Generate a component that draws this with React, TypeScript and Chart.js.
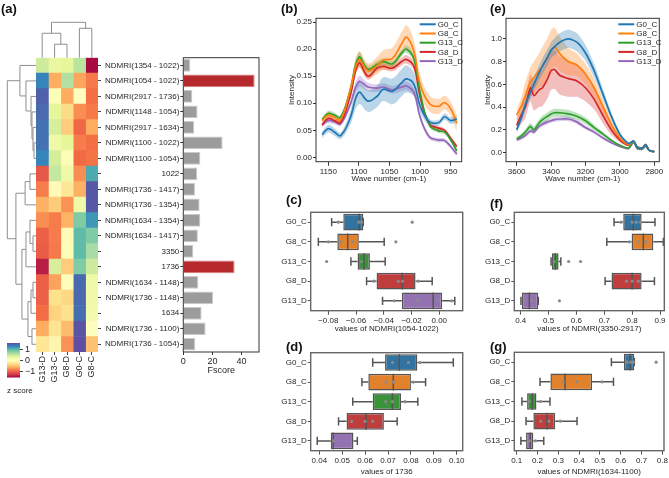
import React, { useEffect, useRef } from "react";
import { Chart, registerables } from "chart.js";
Chart.register(...registerables);

const FONT_FAMILY = "'Liberation Sans', Arial, Helvetica, sans-serif";
Chart.defaults.font.family = FONT_FAMILY;
Chart.defaults.font.size = 8;
Chart.defaults.color = "#262626";

// ---------------- (a) heatmap + F-score ----------------
const heatRows = [
  "NDMRI(1354 - 1022)",
  "NDMRI(1054 - 1022)",
  "NDMRI(2917 - 1736)",
  "NDMRI(1148 - 1054)",
  "NDMRI(2917 - 1634)",
  "NDMRI(1100 - 1022)",
  "NDMRI(1100 - 1054)",
  "1022",
  "NDMRI(1736 - 1417)",
  "NDMRI(1736 - 1354)",
  "NDMRI(1634 - 1354)",
  "NDMRI(1634 - 1417)",
  "3350",
  "1736",
  "NDMRI(1634 - 1148)",
  "NDMRI(1736 - 1148)",
  "1634",
  "NDMRI(1736 - 1100)",
  "NDMRI(1736 - 1054)",
];
const heatCols = ["G13-D", "G13-C", "G8-D", "G0-C", "G8-C"];
// z-scores, rows x cols
const zScores = [
  [0.45, 0.25, 0.3, 0.55, -1.55],
  [1.3, -0.65, 0.6, -0.68, -0.9],
  [1.5, 0.05, -0.65, 0.02, -0.95],
  [1.45, 0.3, -0.35, -0.8, -0.9],
  [1.4, 0.4, -0.45, -1.0, -0.65],
  [1.4, 0.2, 0.3, -0.88, -0.95],
  [1.3, 0.42, 0.05, -0.98, -0.93],
  [-1.1, 0.5, 0.2, -0.8, 1.1],
  [-0.88, -0.05, -0.25, -0.62, 1.55],
  [-0.62, -0.45, -0.78, 0.2, 1.55],
  [-0.8, -0.88, -0.6, 0.85, 1.2],
  [-1.05, -0.88, -0.05, 1.0, 0.85],
  [-1.07, -0.9, 0.05, 1.0, 0.65],
  [-1.45, 0.4, -0.45, 0.85, 0.45],
  [-1.05, -0.7, -0.02, 1.45, 0.2],
  [-1.05, -0.3, -0.37, 1.45, 0.18],
  [-0.97, -0.4, -0.3, 1.42, 0.15],
  [-0.65, -0.28, -0.55, 1.58, 0.02],
  [-0.25, -0.1, -0.78, 1.6, -0.52],
];
const zRange = [-1.6, 1.6];
const zTicks = [-1, 0, 1];
const fScores = [4.8, 49, 6.2, 9.8, 7.5, 27, 11.7, 9.6, 8, 11.2, 11.7, 10, 6.9, 35.2, 10.3, 20.4, 12.6, 15.3, 8.2];
const fTicks = [0, 20, 40];
const fMax = 52;
// linkage: [childA, childB, height] (leaves 0..n-1, merged clusters n, n+1, ...)
const rowLinkage = [
  [5, 6, 0.07],
  [4, 19, 0.105],
  [3, 20, 0.14],
  [2, 21, 0.174],
  [1, 22, 0.35],
  [0, 23, 0.56],
  [7, 8, 0.21],
  [25, 9, 0.38],
  [11, 12, 0.105],
  [10, 27, 0.21],
  [28, 13, 0.35],
  [14, 15, 0.105],
  [30, 16, 0.174],
  [17, 18, 0.14],
  [31, 32, 0.28],
  [29, 33, 0.49],
  [26, 34, 0.7],
  [24, 35, 1.0],
];
const colLinkage = [
  [1, 2, 0.38],
  [0, 5, 0.69],
  [3, 4, 0.83],
  [6, 7, 1.0],
];

// ---------------- shared groups ----------------
const groups = ["G0_C", "G8_C", "G13_C", "G8_D", "G13_D"];
const lineColors = ["#1f77b4", "#ff7f0e", "#2ca02c", "#d62728", "#9467bd"];
const boxColors = ["#3274a1", "#e1812c", "#3a923a", "#c03d3e", "#9372b2"];

// ---------------- (b) spectrum 1160-940 ----------------
const bWave = [1160, 1150, 1140, 1130, 1115, 1100, 1085, 1070, 1060, 1045, 1030, 1022, 1010, 1000, 985, 970, 960, 950, 940];
const bG0C = [0.042, 0.053, 0.047, 0.04, 0.07, 0.12, 0.104, 0.113, 0.126, 0.122, 0.138, 0.145, 0.135, 0.095, 0.066, 0.064, 0.075, 0.068, 0.071];
const bG8C = [0.068, 0.078, 0.074, 0.069, 0.12, 0.18, 0.16, 0.17, 0.18, 0.183, 0.21, 0.222, 0.195, 0.135, 0.1, 0.094, 0.101, 0.09, 0.063];
const bG13C = [0.07, 0.081, 0.078, 0.074, 0.12, 0.185, 0.163, 0.172, 0.177, 0.173, 0.193, 0.2, 0.182, 0.12, 0.06, 0.049, 0.047, 0.032, 0.012];
const bG8D = [0.06, 0.072, 0.068, 0.064, 0.11, 0.174, 0.15, 0.165, 0.168, 0.165, 0.177, 0.181, 0.168, 0.112, 0.062, 0.054, 0.05, 0.035, 0.02];
const bG13D = [0.06, 0.068, 0.066, 0.062, 0.095, 0.14, 0.13, 0.128, 0.13, 0.125, 0.13, 0.132, 0.12, 0.075, 0.038, 0.032, 0.031, 0.02, 0.006];
const bSdG0C = [0.006, 0.007, 0.007, 0.006, 0.012, 0.022, 0.02, 0.02, 0.022, 0.024, 0.025, 0.025, 0.022, 0.012, 0.006, 0.005, 0.006, 0.006, 0.006];
const bSdG8C = [0.005, 0.005, 0.005, 0.005, 0.01, 0.015, 0.014, 0.016, 0.018, 0.02, 0.022, 0.022, 0.02, 0.018, 0.015, 0.014, 0.013, 0.013, 0.015];
const bSdG13C = [0.004, 0.005, 0.005, 0.004, 0.007, 0.01, 0.007, 0.006, 0.006, 0.006, 0.006, 0.007, 0.006, 0.005, 0.004, 0.004, 0.004, 0.004, 0.004];
const bSdG8D = [0.004, 0.004, 0.004, 0.004, 0.006, 0.008, 0.006, 0.006, 0.006, 0.006, 0.007, 0.008, 0.007, 0.005, 0.004, 0.004, 0.004, 0.004, 0.004];
const bSdG13D = [0.004, 0.005, 0.005, 0.004, 0.006, 0.01, 0.008, 0.007, 0.007, 0.007, 0.008, 0.008, 0.007, 0.006, 0.004, 0.004, 0.004, 0.004, 0.004];
const bXTicks = [1150, 1100, 1050, 1000, 950];
const bYTicks = [0, 0.05, 0.1, 0.15, 0.2, 0.25];

// ---------------- (e) spectrum 3600-2800 ----------------
const eWave = [3600, 3570, 3550, 3520, 3500, 3470, 3450, 3420, 3400, 3380, 3350, 3300, 3250, 3200, 3150, 3100, 3050, 3000, 2950, 2920, 2900, 2870, 2850, 2830, 2800];
const eG0C = [0.2, 0.32, 0.42, 0.53, 0.6, 0.7, 0.76, 0.84, 0.9, 0.93, 0.97, 1.0, 0.97, 0.875, 0.72, 0.52, 0.32, 0.16, 0.08, 0.1, 0.05, 0.04, 0.07, 0.02, 0.01];
const eG8C = [0.33, 0.42, 0.5, 0.62, 0.66, 0.72, 0.76, 0.84, 0.9, 0.93, 0.87, 0.8, 0.77, 0.69, 0.57, 0.41, 0.25, 0.13, 0.07, 0.1, 0.05, 0.04, 0.07, 0.02, 0.01];
const eG13C = [0.12, 0.15, 0.18, 0.23, 0.2, 0.26, 0.29, 0.32, 0.34, 0.35, 0.35, 0.34, 0.32, 0.28, 0.22, 0.165, 0.107, 0.064, 0.04, 0.1, 0.04, 0.035, 0.06, 0.02, 0.005];
const eG8D = [0.24, 0.34, 0.4, 0.57, 0.5, 0.55, 0.57, 0.65, 0.72, 0.73, 0.68, 0.65, 0.63, 0.57, 0.47, 0.33, 0.2, 0.11, 0.065, 0.1, 0.05, 0.04, 0.07, 0.02, 0.01];
const eG13D = [0.11, 0.13, 0.15, 0.19, 0.18, 0.23, 0.25, 0.27, 0.28, 0.29, 0.295, 0.295, 0.27, 0.22, 0.18, 0.13, 0.087, 0.055, 0.035, 0.09, 0.035, 0.03, 0.055, 0.02, 0.005];
const eSdG0C = [0.03, 0.04, 0.05, 0.055, 0.06, 0.065, 0.07, 0.07, 0.07, 0.075, 0.08, 0.08, 0.08, 0.07, 0.06, 0.045, 0.03, 0.02, 0.01, 0.01, 0.008, 0.008, 0.008, 0.005, 0.005];
const eSdG8C = [0.05, 0.08, 0.12, 0.13, 0.14, 0.15, 0.17, 0.17, 0.18, 0.17, 0.15, 0.12, 0.1, 0.09, 0.08, 0.06, 0.04, 0.02, 0.01, 0.01, 0.008, 0.008, 0.008, 0.005, 0.005];
const eSdG13C = [0.015, 0.02, 0.025, 0.03, 0.03, 0.03, 0.035, 0.035, 0.035, 0.035, 0.035, 0.035, 0.03, 0.03, 0.025, 0.02, 0.015, 0.01, 0.008, 0.008, 0.006, 0.006, 0.006, 0.004, 0.004];
const eSdG8D = [0.05, 0.08, 0.1, 0.12, 0.13, 0.15, 0.16, 0.17, 0.17, 0.17, 0.17, 0.16, 0.14, 0.12, 0.09, 0.07, 0.045, 0.02, 0.01, 0.01, 0.008, 0.008, 0.008, 0.005, 0.005];
const eSdG13D = [0.012, 0.015, 0.015, 0.018, 0.018, 0.02, 0.02, 0.02, 0.02, 0.02, 0.02, 0.02, 0.02, 0.018, 0.015, 0.012, 0.01, 0.008, 0.006, 0.006, 0.005, 0.005, 0.005, 0.004, 0.004];
const eXTicks = [3600, 3400, 3200, 3000, 2800];
const eYTicks = [0, 0.2, 0.4, 0.6, 0.8, 1.0];

// ---------------- (c) NDMRI(1054-1022) ----------------
const cLow = [-0.0776, -0.0872, -0.0637, -0.0524, -0.0409];
const cQ1 = [-0.0692, -0.0735, -0.0589, -0.0452, -0.027];
const cMed = [-0.0577, -0.066, -0.0543, -0.0267, -0.0044];
const cQ3 = [-0.0548, -0.058, -0.05, -0.0171, 0.0021];
const cHigh = [-0.0548, -0.0397, -0.039, -0.0051, 0.0112];
const cPoints = [
  [-0.0728, -0.058, -0.056, -0.0195],
  [-0.08, -0.0709, -0.0625, -0.0313],
  [-0.0812, -0.056],
  [-0.047, -0.0296, -0.0265, -0.0152],
  [-0.0325, -0.0157, -0.0008, 0.0088],
];
const cTicks = [-0.08, -0.06, -0.04, -0.02, 0.0];

// ---------------- (d) 1736 ----------------
const dLow = [0.0633, 0.0586, 0.0546, 0.0484, 0.0391];
const dQ1 = [0.0687, 0.0614, 0.0633, 0.0519, 0.045];
const dMed = [0.0749, 0.0723, 0.0719, 0.0604, 0.0461];
const dQ3 = [0.0828, 0.08, 0.0757, 0.0682, 0.0549];
const dHigh = [0.0985, 0.0864, 0.083, 0.074, 0.0566];
const dPoints = [
  [0.072, 0.0789, 0.084],
  [0.0691, 0.0723, 0.081],
  [0.069, 0.0719, 0.0774],
  [0.0541, 0.06, 0.0633],
  [0.0464],
];
const dTicks = [0.04, 0.05, 0.06, 0.07, 0.08, 0.09, 0.1];

// ---------------- (f) NDMRI(3350-2917) ----------------
const fLow = [0.735, 0.709, 0.509, 0.703, 0.401];
const fQ1 = [0.768, 0.798, 0.512, 0.726, 0.404];
const fMed = [0.804, 0.84, 0.524, 0.8, 0.431];
const fQ3 = [0.834, 0.876, 0.536, 0.834, 0.463];
const fHigh = [0.882, 0.912, 0.544, 0.88, 0.463];
const fPoints = [
  [0.76, 0.8, 0.815, 0.83],
  [0.79, 0.822, 0.848],
  [0.52, 0.572, 0.615],
  [0.78, 0.8, 0.822],
  [0.412, 0.44, 0.539],
];
const fBoxTicks = [0.4, 0.5, 0.6, 0.7, 0.8, 0.9];

// ---------------- (g) NDMRI(1634-1100) ----------------
const gLow = [0.555, 0.212, 0.125, 0.145, 0.12];
const gQ1 = [0.615, 0.262, 0.15, 0.18, 0.145];
const gMed = [0.645, 0.332, 0.175, 0.245, 0.165];
const gQ3 = [0.665, 0.462, 0.195, 0.285, 0.18];
const gHigh = [0.665, 0.565, 0.26, 0.39, 0.23];
const gPoints = [
  [0.63, 0.648, 0.66, 0.77],
  [0.325, 0.39, 0.51],
  [0.16, 0.215],
  [0.215, 0.255, 0.31],
  [0.16, 0.19],
];
const gTicks = [0.1, 0.2, 0.3, 0.4, 0.5, 0.6, 0.7, 0.8];

// ---------------- helpers ----------------
const SPECTRAL = ["#9e0142", "#d53e4f", "#f46d43", "#fdae61", "#fee08b", "#ffffbf", "#e6f598", "#abdda4", "#66c2a5", "#3288bd", "#5e4fa2"];
function hexToRgb(h: string) {
  const n = parseInt(h.slice(1), 16);
  return [(n >> 16) & 255, (n >> 8) & 255, n & 255];
}
function zColor(z: number) {
  let t = (z - zRange[0]) / (zRange[1] - zRange[0]);
  t = Math.min(1, Math.max(0, t));
  const p = t * (SPECTRAL.length - 1);
  const i = Math.min(Math.floor(p), SPECTRAL.length - 2);
  const f = p - i;
  const a = hexToRgb(SPECTRAL[i]);
  const b = hexToRgb(SPECTRAL[i + 1]);
  const c = a.map((v, k) => Math.round(v + (b[k] - v) * f));
  return `rgb(${c[0]},${c[1]},${c[2]})`;
}
function alpha(hex: string, a: number) {
  const c = hexToRgb(hex);
  return `rgba(${c[0]},${c[1]},${c[2]},${a})`;
}
const minus = (s: string) => s.replace("-", "\u2212");

function dendroSegments(linkage: number[][], leafPos: number[]) {
  const pos = [...leafPos];
  const hgt = leafPos.map(() => 0);
  const segs: number[][] = [];
  linkage.forEach(([a, b, h]) => {
    segs.push([pos[a], hgt[a], pos[a], h]);
    segs.push([pos[b], hgt[b], pos[b], h]);
    segs.push([pos[a], h, pos[b], h]);
    pos.push((pos[a] + pos[b]) / 2);
    hgt.push(h);
  });
  return segs;
}

const ROW_DENDRO_W = 28.7;
const COL_DENDRO_H = 35.4;

const dendroPlugin = {
  id: "dendro",
  afterDraw(chart: any) {
    const { ctx, chartArea, scales } = chart;
    ctx.save();
    ctx.strokeStyle = "#8f8f8f";
    ctx.lineWidth = 1;
    ctx.beginPath();
    const rowPos = heatRows.map((_, i) => scales.y.getPixelForValue(i));
    for (const [p1, h1, p2, h2] of dendroSegments(rowLinkage, rowPos)) {
      ctx.moveTo(chartArea.left - h1 * ROW_DENDRO_W, p1);
      ctx.lineTo(chartArea.left - h2 * ROW_DENDRO_W, p2);
    }
    const colPos = heatCols.map((_, j) => scales.x.getPixelForValue(j + 0.5));
    for (const [p1, h1, p2, h2] of dendroSegments(colLinkage, colPos)) {
      ctx.moveTo(p1, chartArea.top - h1 * COL_DENDRO_H);
      ctx.lineTo(p2, chartArea.top - h2 * COL_DENDRO_H);
    }
    ctx.stroke();
    ctx.restore();
  },
};

function makeFramePlugin(color: string, width: number) {
  return {
    id: "frame",
    afterDraw(chart: any) {
      const { ctx, chartArea: a } = chart;
      ctx.save();
      ctx.strokeStyle = color;
      ctx.lineWidth = width;
      ctx.strokeRect(a.left, a.top, a.right - a.left, a.bottom - a.top);
      ctx.restore();
    },
  };
}

function makeLegendPlugin(fromRight: number, fromTop: number, rowH: number) {
  return {
    id: "insideLegend",
    afterDraw(chart: any) {
      const { ctx, chartArea: a } = chart;
      const items = chart.data.datasets.filter((d: any) => d.label);
      ctx.save();
      ctx.font = `8px ${FONT_FAMILY}`;
      ctx.textBaseline = "middle";
      ctx.textAlign = "left";
      const x0 = a.right - fromRight;
      items.forEach((d: any, i: number) => {
        const y = a.top + fromTop + i * rowH;
        ctx.strokeStyle = d.borderColor;
        ctx.lineWidth = 2;
        ctx.beginPath();
        ctx.moveTo(x0, y);
        ctx.lineTo(x0 + 16, y);
        ctx.stroke();
        ctx.fillStyle = "#262626";
        ctx.fillText(d.label, x0 + 18, y + 0.5);
      });
      ctx.restore();
    },
  };
}

function makeBoxPlugin(low: number[], med: number[], high: number[], q1: number[], q3: number[]) {
  const color = "#555555";
  return {
    id: "boxWhisker",
    beforeDatasetsDraw(chart: any) {
      const { ctx } = chart;
      const xs = chart.scales.x;
      const meta = chart.getDatasetMeta(0);
      ctx.save();
      ctx.strokeStyle = color;
      ctx.lineWidth = 1.5;
      ctx.beginPath();
      meta.data.forEach((bar: any, i: number) => {
        const y = bar.y;
        const cap = bar.height * 0.25;
        const xl = xs.getPixelForValue(low[i]);
        const xh = xs.getPixelForValue(high[i]);
        const x1 = xs.getPixelForValue(q1[i]);
        const x3 = xs.getPixelForValue(q3[i]);
        ctx.moveTo(xl, y);
        ctx.lineTo(x1, y);
        ctx.moveTo(x3, y);
        ctx.lineTo(xh, y);
        ctx.moveTo(xl, y - cap);
        ctx.lineTo(xl, y + cap);
        ctx.moveTo(xh, y - cap);
        ctx.lineTo(xh, y + cap);
      });
      ctx.stroke();
      ctx.restore();
    },
    afterDatasetDraw(chart: any, args: any) {
      if (args.index !== 0) return;
      const { ctx } = chart;
      const xs = chart.scales.x;
      const meta = chart.getDatasetMeta(0);
      ctx.save();
      ctx.strokeStyle = color;
      ctx.lineWidth = 1.5;
      ctx.beginPath();
      meta.data.forEach((bar: any, i: number) => {
        const x = xs.getPixelForValue(med[i]);
        ctx.moveTo(x, bar.y - bar.height / 2);
        ctx.lineTo(x, bar.y + bar.height / 2);
      });
      ctx.stroke();
      ctx.restore();
    },
  };
}

const baseOptions = {
  responsive: false,
  animation: false,
  events: [],
  plugins: { legend: { display: false }, tooltip: { enabled: false } },
};

// ---------------- configs ----------------
function heatConfig(): any {
  return {
    type: "bar",
    data: {
      labels: heatRows,
      datasets: heatCols.map((col, j) => ({
        label: col,
        data: heatRows.map(() => 1),
        backgroundColor: zScores.map((r) => zColor(r[j])),
        borderWidth: 0,
        barPercentage: 1,
        categoryPercentage: 1,
      })),
    },
    options: {
      ...baseOptions,
      indexAxis: "y",
      layout: { padding: { left: 36, top: 57.7, right: 0, bottom: 0 } },
      scales: {
        x: {
          type: "linear",
          stacked: true,
          min: 0,
          max: heatCols.length,
          grid: { drawOnChartArea: false, tickLength: 3, color: "#444" },
          border: { display: false },
          afterBuildTicks: (s: any) => {
            s.ticks = heatCols.map((_, j) => ({ value: j + 0.5 }));
          },
          ticks: {
            autoSkip: false,
            minRotation: 90,
            maxRotation: 90,
            padding: 1,
            font: { size: 9 },
            callback: (v: any) => heatCols[Math.round(Number(v) - 0.5)] ?? "",
          },
          afterFit: (s: any) => {
            s.height = 48;
          },
        },
        y: {
          stacked: true,
          position: "right",
          grid: { drawOnChartArea: false, offset: false, tickLength: 3, color: "#444" },
          border: { display: false },
          ticks: { display: false },
          afterFit: (s: any) => {
            s.width = 4;
          },
        },
      },
    },
    plugins: [dendroPlugin],
  };
}

function colorbarConfig(): any {
  return {
    type: "bar",
    data: {
      labels: ["z score"],
      datasets: [
        {
          data: [[zRange[0], zRange[1]]],
          backgroundColor: (c: any) => {
            const a = c.chart.chartArea;
            if (!a) return SPECTRAL[5];
            const g = c.chart.ctx.createLinearGradient(0, a.bottom, 0, a.top);
            SPECTRAL.forEach((col, i) => g.addColorStop(i / (SPECTRAL.length - 1), col));
            return g;
          },
          borderWidth: 0,
          barPercentage: 1,
          categoryPercentage: 1,
        },
      ],
    },
    options: {
      ...baseOptions,
      layout: { padding: { left: 7, top: 8, right: 0, bottom: 0 } },
      scales: {
        x: {
          display: false,
        },
        y: {
          position: "right",
          min: zRange[0],
          max: zRange[1],
          afterBuildTicks: (s: any) => {
            s.ticks = zTicks.map((v) => ({ value: v }));
          },
          ticks: { padding: 2, font: { size: 9 }, callback: (v: any) => minus(String(v)) },
          grid: { drawOnChartArea: false, tickLength: 3, color: "#444" },
          border: { display: false },
          afterFit: (s: any) => {
            s.width = 22;
          },
        },
      },
    },
  };
}

function fscoreConfig(): any {
  const sorted = [...fScores].sort((a, b) => b - a);
  const cutoff = sorted[1];
  return {
    type: "bar",
    data: {
      labels: heatRows,
      datasets: [
        {
          data: fScores,
          backgroundColor: fScores.map((v) => (v >= cutoff ? "#b6292d" : "#9c9c9c")),
          borderColor: fScores.map((v) => (v >= cutoff ? "#d77a7a" : "#cacaca")),
          borderWidth: 1,
          barPercentage: 0.82,
          categoryPercentage: 1,
        },
      ],
    },
    options: {
      ...baseOptions,
      indexAxis: "y",
      layout: { padding: { left: 0, top: 57.7, right: 3, bottom: 0 } },
      scales: {
        x: {
          min: 0,
          max: fMax,
          afterBuildTicks: (s: any) => {
            s.ticks = fTicks.map((v) => ({ value: v }));
          },
          grid: { drawOnChartArea: false, tickLength: 3, color: "#333" },
          border: { display: false },
          ticks: { padding: 1, maxRotation: 0, font: { size: 9 }, callback: (v: any) => String(v) },
          title: { display: true, text: "Fscore", font: { size: 9 }, padding: { top: 0, bottom: 1 } },
          afterFit: (s: any) => {
            s.height = 25;
          },
        },
        y: {
          grid: { drawOnChartArea: false, offset: false, tickLength: 3, color: "#333" },
          border: { display: false },
          ticks: { autoSkip: false, padding: 1, font: { size: 8 } },
          afterFit: (s: any) => {
            s.width = 83.3;
          },
        },
      },
    },
    plugins: [makeFramePlugin("#333", 1)],
  };
}

function spectrumConfig(p: any): any {
  const datasets: any[] = [];
  p.means.forEach((m: number[], i: number) => {
    datasets.push({
      label: groups[i],
      data: p.wave.map((w: number, k: number) => ({ x: w, y: m[k] })),
      borderColor: lineColors[i],
      borderWidth: 1.7,
      pointRadius: 0,
      fill: false,
      tension: p.tension,
      order: i,
    });
  });
  p.means.forEach((m: number[], i: number) => {
    const sd = p.sds[i];
    datasets.push({
      label: "",
      data: p.wave.map((w: number, k: number) => ({ x: w, y: m[k] + sd[k] })),
      borderWidth: 0,
      pointRadius: 0,
      fill: "+1",
      backgroundColor: alpha(lineColors[i], 0.3),
      tension: p.tension,
      order: 10 + i,
    });
    datasets.push({
      label: "",
      data: p.wave.map((w: number, k: number) => ({ x: w, y: m[k] - sd[k] })),
      borderWidth: 0,
      pointRadius: 0,
      fill: false,
      tension: p.tension,
      order: 10 + i,
    });
  });
  return {
    type: "line",
    data: { datasets },
    options: {
      ...baseOptions,
      layout: { padding: { left: 0, top: 18.3, right: p.padRight, bottom: 0 } },
      scales: {
        x: {
          type: "linear",
          reverse: true,
          min: p.xMin,
          max: p.xMax,
          afterBuildTicks: (s: any) => {
            s.ticks = p.xTicks.map((v: number) => ({ value: v }));
          },
          grid: { drawOnChartArea: false, tickLength: 4, color: "#333" },
          border: { display: false },
          ticks: { padding: 1, maxRotation: 0, callback: (v: any) => String(v) },
          title: { display: true, text: "Wave number (cm-1)", padding: { top: 0, bottom: 1.6 } },
          afterFit: (s: any) => {
            s.height = 23.3;
          },
        },
        y: {
          min: p.yMin,
          max: p.yMax,
          afterBuildTicks: (s: any) => {
            s.ticks = p.yTicks.map((v: number) => ({ value: v }));
          },
          grid: { drawOnChartArea: false, tickLength: 3, color: "#333" },
          border: { display: false },
          ticks: { padding: 1, callback: (v: any) => Number(v).toFixed(p.yDec) },
          title: { display: true, text: "Intensity", padding: { top: p.titlePad, bottom: 0 } },
          afterFit: (s: any) => {
            s.width = p.yWidth;
          },
        },
      },
    },
    plugins: [makeFramePlugin("#333", 1), makeLegendPlugin(p.legendFromRight, 6, 9.2)],
  };
}

function boxConfig(p: any): any {
  const pts: any[] = [];
  p.points.forEach((arr: number[], i: number) => arr.forEach((v) => pts.push({ x: v, y: groups[i] })));
  return {
    type: "bar",
    data: {
      labels: groups,
      datasets: [
        {
          type: "bar",
          data: p.q1.map((v: number, i: number) => [v, p.q3[i]]),
          backgroundColor: boxColors,
          borderColor: "#555555",
          borderWidth: 1.5,
          borderSkipped: false,
          barPercentage: 0.85,
          categoryPercentage: 1,
          order: 1,
        },
        {
          type: "scatter",
          data: pts,
          pointRadius: 1.6,
          pointBackgroundColor: "#8a8a8a",
          pointBorderWidth: 0,
          order: 0,
        },
      ],
    },
    options: {
      ...baseOptions,
      indexAxis: "y",
      layout: { padding: { left: 0, top: p.padTop, right: p.padRight, bottom: 0 } },
      scales: {
        x: {
          type: "linear",
          min: p.xMin,
          max: p.xMax,
          afterBuildTicks: (s: any) => {
            s.ticks = p.ticks.map((v: number) => ({ value: v }));
          },
          grid: { drawOnChartArea: false, tickLength: 4, color: "#555" },
          border: { display: false },
          ticks: { padding: 1, maxRotation: 0, callback: (v: any) => minus(Number(v).toFixed(p.dec)) },
          title: { display: true, text: p.title, padding: { top: 0, bottom: 1.2 } },
          afterFit: (s: any) => {
            s.height = p.axisH;
          },
        },
        y: {
          type: "category",
          grid: { drawOnChartArea: false, offset: false, tickLength: 3, color: "#555" },
          border: { display: false },
          ticks: { padding: 1 },
          afterFit: (s: any) => {
            s.width = p.yWidth;
          },
        },
      },
    },
    plugins: [makeBoxPlugin(p.low, p.med, p.high, p.q1, p.q3), makeFramePlugin("#666", 1.4)],
  };
}

// ---------------- components ----------------
function ChartBox({ left, top, width, height, make }: any) {
  const ref = useRef<HTMLCanvasElement | null>(null);
  useEffect(() => {
    if (!ref.current) return;
    const chart = new Chart(ref.current, make());
    return () => chart.destroy();
  }, []);
  return <canvas ref={ref} width={width} height={height} style={{ position: "absolute", left, top, width, height }} />;
}

const panelLabels = [
  { t: "(a)", x: 1, y: 1.5 },
  { t: "(b)", x: 281, y: 1.5 },
  { t: "(e)", x: 490, y: 1.5 },
  { t: "(c)", x: 286, y: 192.5 },
  { t: "(d)", x: 286, y: 340 },
  { t: "(f)", x: 490, y: 197 },
  { t: "(g)", x: 490, y: 340 },
];

export default function App() {
  return (
    <div
      style={{
        position: "fixed",
        left: 0,
        top: 0,
        width: 669,
        height: 478,
        background: "#fff",
        overflow: "hidden",
        fontFamily: FONT_FAMILY,
      }}
    >
      <ChartBox left={0} top={0} width={104} height={400} make={heatConfig} />
      <ChartBox left={100} top={0} width={162} height={377} make={fscoreConfig} />
      <ChartBox left={0} top={335} width={42} height={50} make={colorbarConfig} />
      <div style={{ position: "absolute", left: 7, top: 386, fontSize: 8, lineHeight: "9px", color: "#262626" }}>z score</div>
      <ChartBox
        left={280}
        top={0}
        width={189}
        height={185}
        make={() =>
          spectrumConfig({
            wave: bWave,
            means: [bG0C, bG8C, bG13C, bG8D, bG13D],
            sds: [bSdG0C, bSdG8C, bSdG13C, bSdG8D, bSdG13D],
            xMin: 932,
            xMax: 1170,
            yMin: -0.008,
            yMax: 0.257,
            xTicks: bXTicks,
            yTicks: bYTicks,
            yDec: 2,
            tension: 0.4,
            padRight: 7.3,
            yWidth: 36,
            titlePad: 6.7,
            legendFromRight: 42,
          })
        }
      />
      <ChartBox
        left={480}
        top={0}
        width={189}
        height={185}
        make={() =>
          spectrumConfig({
            wave: eWave,
            means: [eG0C, eG8C, eG13C, eG8D, eG13D],
            sds: [eSdG0C, eSdG8C, eSdG13C, eSdG8D, eSdG13D],
            xMin: 2771,
            xMax: 3662,
            yMin: -0.08,
            yMax: 1.18,
            xTicks: eXTicks,
            yTicks: eYTicks,
            yDec: 1,
            tension: 0.25,
            padRight: 9.7,
            yWidth: 26,
            titlePad: 3.2,
            legendFromRight: 41,
          })
        }
      />
      <ChartBox
        left={280}
        top={190}
        width={188}
        height={145}
        make={() =>
          boxConfig({
            low: cLow, q1: cQ1, med: cMed, q3: cQ3, high: cHigh, points: cPoints,
            xMin: -0.0927, xMax: 0.0169, ticks: cTicks, dec: 2,
            title: "values of NDMRI(1054-1022)",
            padTop: 22.3, padRight: 5.3, yWidth: 30.7, axisH: 24.3,
          })
        }
      />
      <ChartBox
        left={280}
        top={330}
        width={188}
        height={148}
        make={() =>
          boxConfig({
            low: dLow, q1: dQ1, med: dMed, q3: dQ3, high: dHigh, points: dPoints,
            xMin: 0.03624, xMax: 0.1026, ticks: dTicks, dec: 2,
            title: "values of 1736",
            padTop: 22.7, padRight: 5.3, yWidth: 30.7, axisH: 27.3,
          })
        }
      />
      <ChartBox
        left={480}
        top={190}
        width={189}
        height={145}
        make={() =>
          boxConfig({
            low: fLow, q1: fQ1, med: fMed, q3: fQ3, high: fHigh, points: fPoints,
            xMin: 0.377, xMax: 0.9154, ticks: fBoxTicks, dec: 1,
            title: "values of NDMRI(3350-2917)",
            padTop: 22.3, padRight: 4.7, yWidth: 34.3, axisH: 24.3,
          })
        }
      />
      <ChartBox
        left={480}
        top={330}
        width={189}
        height={148}
        make={() =>
          boxConfig({
            low: gLow, q1: gQ1, med: gMed, q3: gQ3, high: gHigh, points: gPoints,
            xMin: 0.0885, xMax: 0.8077, ticks: gTicks, dec: 1,
            title: "values of NDMRI(1634-1100)",
            padTop: 22.3, padRight: 4.7, yWidth: 34.3, axisH: 27.3,
          })
        }
      />
      {panelLabels.map((l) => (
        <div
          key={l.t}
          style={{
            position: "absolute",
            left: l.x,
            top: l.y,
            fontSize: 13,
            lineHeight: "13px",
            fontWeight: "bold",
            color: "#111",
          }}
        >
          {l.t}
        </div>
      ))}
    </div>
  );
}
